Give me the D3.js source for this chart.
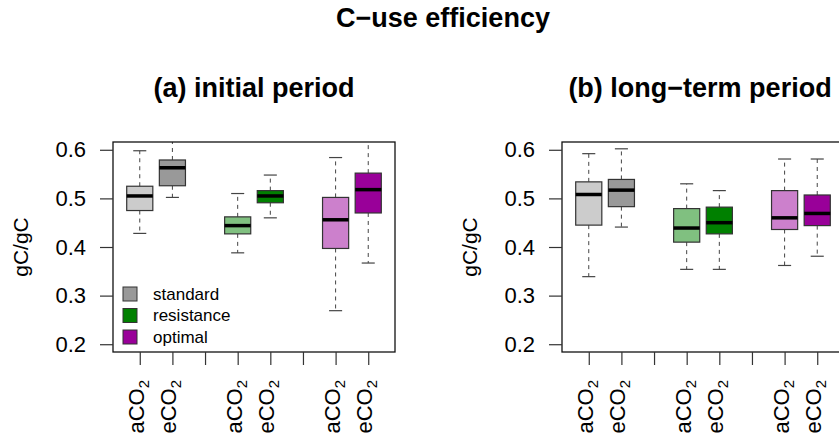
<!DOCTYPE html>
<html>
<head>
<meta charset="utf-8">
<script src="https://cdn.jsdelivr.net/npm/d3@7"></script>
<style>
  html, body { margin: 0; padding: 0; background: #fff; }
  svg { display: block; }
  text { font-family: "Liberation Sans", Arial, Helvetica, sans-serif; fill: #000; }
</style>
</head>
<body>
<script>
// ---------------- data ----------------
const mainTitle = "C\u2212use efficiency";
const panelTitles = ["(a) initial period", "(b) long\u2212term period"];
const yLabel = "gC/gC";
const yTicks = [0.2, 0.3, 0.4, 0.5, 0.6];
const xTicks = [1, 2, 3, 4, 5, 6, 7, 8];
const boxPositions = [1, 2, 4, 5, 7, 8];
const co2Labels = ["a", "e", "a", "e", "a", "e"];          // prefix of CO2 label
const legendLabels = ["standard", "resistance", "optimal"];
const legendColors = ["#999999", "#008000", "#990099"];
const boxColors = ["#cccccc", "#999999", "#80c080", "#008000", "#cc80cc", "#990099"];

// (a) initial period: standard a/e, resistance a/e, optimal a/e
const initialLow    = [0.428, 0.502, 0.388, 0.460, 0.269, 0.367];
const initialQ1     = [0.475, 0.526, 0.427, 0.491, 0.397, 0.470];
const initialMedian = [0.505, 0.563, 0.444, 0.505, 0.456, 0.518];
const initialQ3     = [0.525, 0.579, 0.462, 0.516, 0.502, 0.552];
const initialHigh   = [0.598, 0.630, 0.510, 0.548, 0.584, 0.640];

// (b) long-term period
const longLow    = [0.339, 0.441, 0.354, 0.354, 0.362, 0.381];
const longQ1     = [0.445, 0.483, 0.410, 0.427, 0.436, 0.444];
const longMedian = [0.508, 0.517, 0.439, 0.450, 0.460, 0.469];
const longQ3     = [0.534, 0.539, 0.479, 0.482, 0.516, 0.507];
const longHigh   = [0.592, 0.602, 0.530, 0.516, 0.581, 0.581];

// ---------------- drawing ----------------
const W = 839, H = 436;
const svg = d3.select("body").append("svg").attr("width", W).attr("height", H);

const plotTop = 142, plotBottom = 352, plotWidth = 282;
const panelLefts = [113, 562];
const y = d3.scaleLinear().domain([0.184, 0.616]).range([plotBottom, plotTop]);

const panelData = [
  { low: initialLow, q1: initialQ1, med: initialMedian, q3: initialQ3, high: initialHigh },
  { low: longLow, q1: longQ1, med: longMedian, q3: longQ3, high: longHigh }
];

svg.append("text")
  .attr("x", 443).attr("y", 27)
  .attr("text-anchor", "middle")
  .style("font-size", "27px").style("font-weight", "bold")
  .text(mainTitle);

panelData.forEach((pd, pi) => {
  const left = panelLefts[pi];
  const x = d3.scaleLinear().domain([0.18, 8.82]).range([left, left + plotWidth]);
  const g = svg.append("g");

  const clipId = "clip" + pi;
  svg.append("clipPath").attr("id", clipId)
    .append("rect").attr("x", left).attr("y", plotTop)
    .attr("width", plotWidth).attr("height", plotBottom - plotTop);

  const rows = boxPositions.map((p, i) => ({
    pos: p, low: pd.low[i], q1: pd.q1[i], med: pd.med[i], q3: pd.q3[i], high: pd.high[i],
    fill: boxColors[i]
  }));

  const bw = x(0.4) - x(0);   // half box width (boxwex 0.8)
  const sw = x(0.2) - x(0);   // half staple width
  const boxes = g.append("g").attr("clip-path", `url(#${clipId})`)
    .selectAll("g").data(rows).join("g");

  // whiskers (dashed)
  boxes.append("line")
    .attr("x1", d => x(d.pos)).attr("x2", d => x(d.pos))
    .attr("y1", d => y(d.q3)).attr("y2", d => y(d.high))
    .attr("stroke", "#444").attr("stroke-width", 1).attr("stroke-dasharray", "4,4");
  boxes.append("line")
    .attr("x1", d => x(d.pos)).attr("x2", d => x(d.pos))
    .attr("y1", d => y(d.q1)).attr("y2", d => y(d.low))
    .attr("stroke", "#444").attr("stroke-width", 1).attr("stroke-dasharray", "4,4");
  // staples
  boxes.append("line")
    .attr("x1", d => x(d.pos) - sw).attr("x2", d => x(d.pos) + sw)
    .attr("y1", d => y(d.high)).attr("y2", d => y(d.high))
    .attr("stroke", "#444").attr("stroke-width", 1.2);
  boxes.append("line")
    .attr("x1", d => x(d.pos) - sw).attr("x2", d => x(d.pos) + sw)
    .attr("y1", d => y(d.low)).attr("y2", d => y(d.low))
    .attr("stroke", "#444").attr("stroke-width", 1.2);
  // boxes
  boxes.append("rect")
    .attr("x", d => x(d.pos) - bw).attr("width", 2 * bw)
    .attr("y", d => y(d.q3)).attr("height", d => y(d.q1) - y(d.q3))
    .attr("fill", d => d.fill).attr("stroke", "#333").attr("stroke-width", 1.2);
  // medians
  boxes.append("line")
    .attr("x1", d => x(d.pos) - bw).attr("x2", d => x(d.pos) + bw)
    .attr("y1", d => y(d.med)).attr("y2", d => y(d.med))
    .attr("stroke", "#000").attr("stroke-width", 3.5);

  // frame
  g.append("rect").attr("x", left).attr("y", plotTop)
    .attr("width", plotWidth).attr("height", plotBottom - plotTop)
    .attr("fill", "none").attr("stroke", "#111").attr("stroke-width", 1.3);

  // y axis
  const yAxis = d3.axisLeft(y).tickValues(yTicks).tickSize(13).tickPadding(14)
    .tickFormat(d3.format(".1f"));
  const ya = g.append("g").attr("transform", `translate(${left},0)`).call(yAxis);
  ya.select(".domain").remove();
  ya.selectAll(".tick line").attr("stroke", "#333").attr("stroke-width", 1.2);
  ya.selectAll(".tick text")
    .style("font-size", "22px").style("font-family", "'Liberation Sans', Arial, sans-serif")
    .attr("fill", "#000");

  // x axis ticks
  const xAxis = d3.axisBottom(x).tickValues(xTicks).tickSize(13).tickFormat("");
  const xa = g.append("g").attr("transform", `translate(0,${plotBottom})`).call(xAxis);
  xa.select(".domain").remove();
  xa.selectAll(".tick line").attr("stroke", "#333").attr("stroke-width", 1.2);

  // x labels (rotated, with subscript)
  rows.forEach((d, i) => {
    const t = g.append("text")
      .attr("transform", `translate(${x(d.pos) + 4},380) rotate(-90)`)
      .attr("text-anchor", "end")
      .style("font-size", "22px");
    t.append("tspan").text(co2Labels[i] + "CO");
    t.append("tspan").attr("dy", 5).style("font-size", "15px").text("2");
  });

  // y label
  g.append("text")
    .attr("transform", `translate(${left - 85},${(plotTop + plotBottom) / 2}) rotate(-90)`)
    .attr("text-anchor", "middle")
    .style("font-size", "21px")
    .text(yLabel);

  // panel title
  g.append("text")
    .attr("x", left + plotWidth / 2 - (pi === 1 ? 3 : 0)).attr("y", 97)
    .attr("text-anchor", "middle")
    .style("font-size", "27px").style("font-weight", "bold")
    .text(panelTitles[pi]);

  // legend in first panel
  if (pi === 0) {
    const lg = g.append("g");
    const ly = d3.scalePoint().domain(legendLabels).range([294, 337]);
    lg.selectAll("rect").data(legendLabels).join("rect")
      .attr("x", left + 10).attr("y", d => ly(d) - 7)
      .attr("width", 14).attr("height", 14)
      .attr("fill", (d, i) => legendColors[i]).attr("stroke", "#333").attr("stroke-width", 1);
    lg.selectAll("text").data(legendLabels).join("text")
      .attr("x", left + 40).attr("y", d => ly(d))
      .attr("dominant-baseline", "central")
      .style("font-size", "17px")
      .text(d => d);
  }
});
</script>
</body>
</html>
